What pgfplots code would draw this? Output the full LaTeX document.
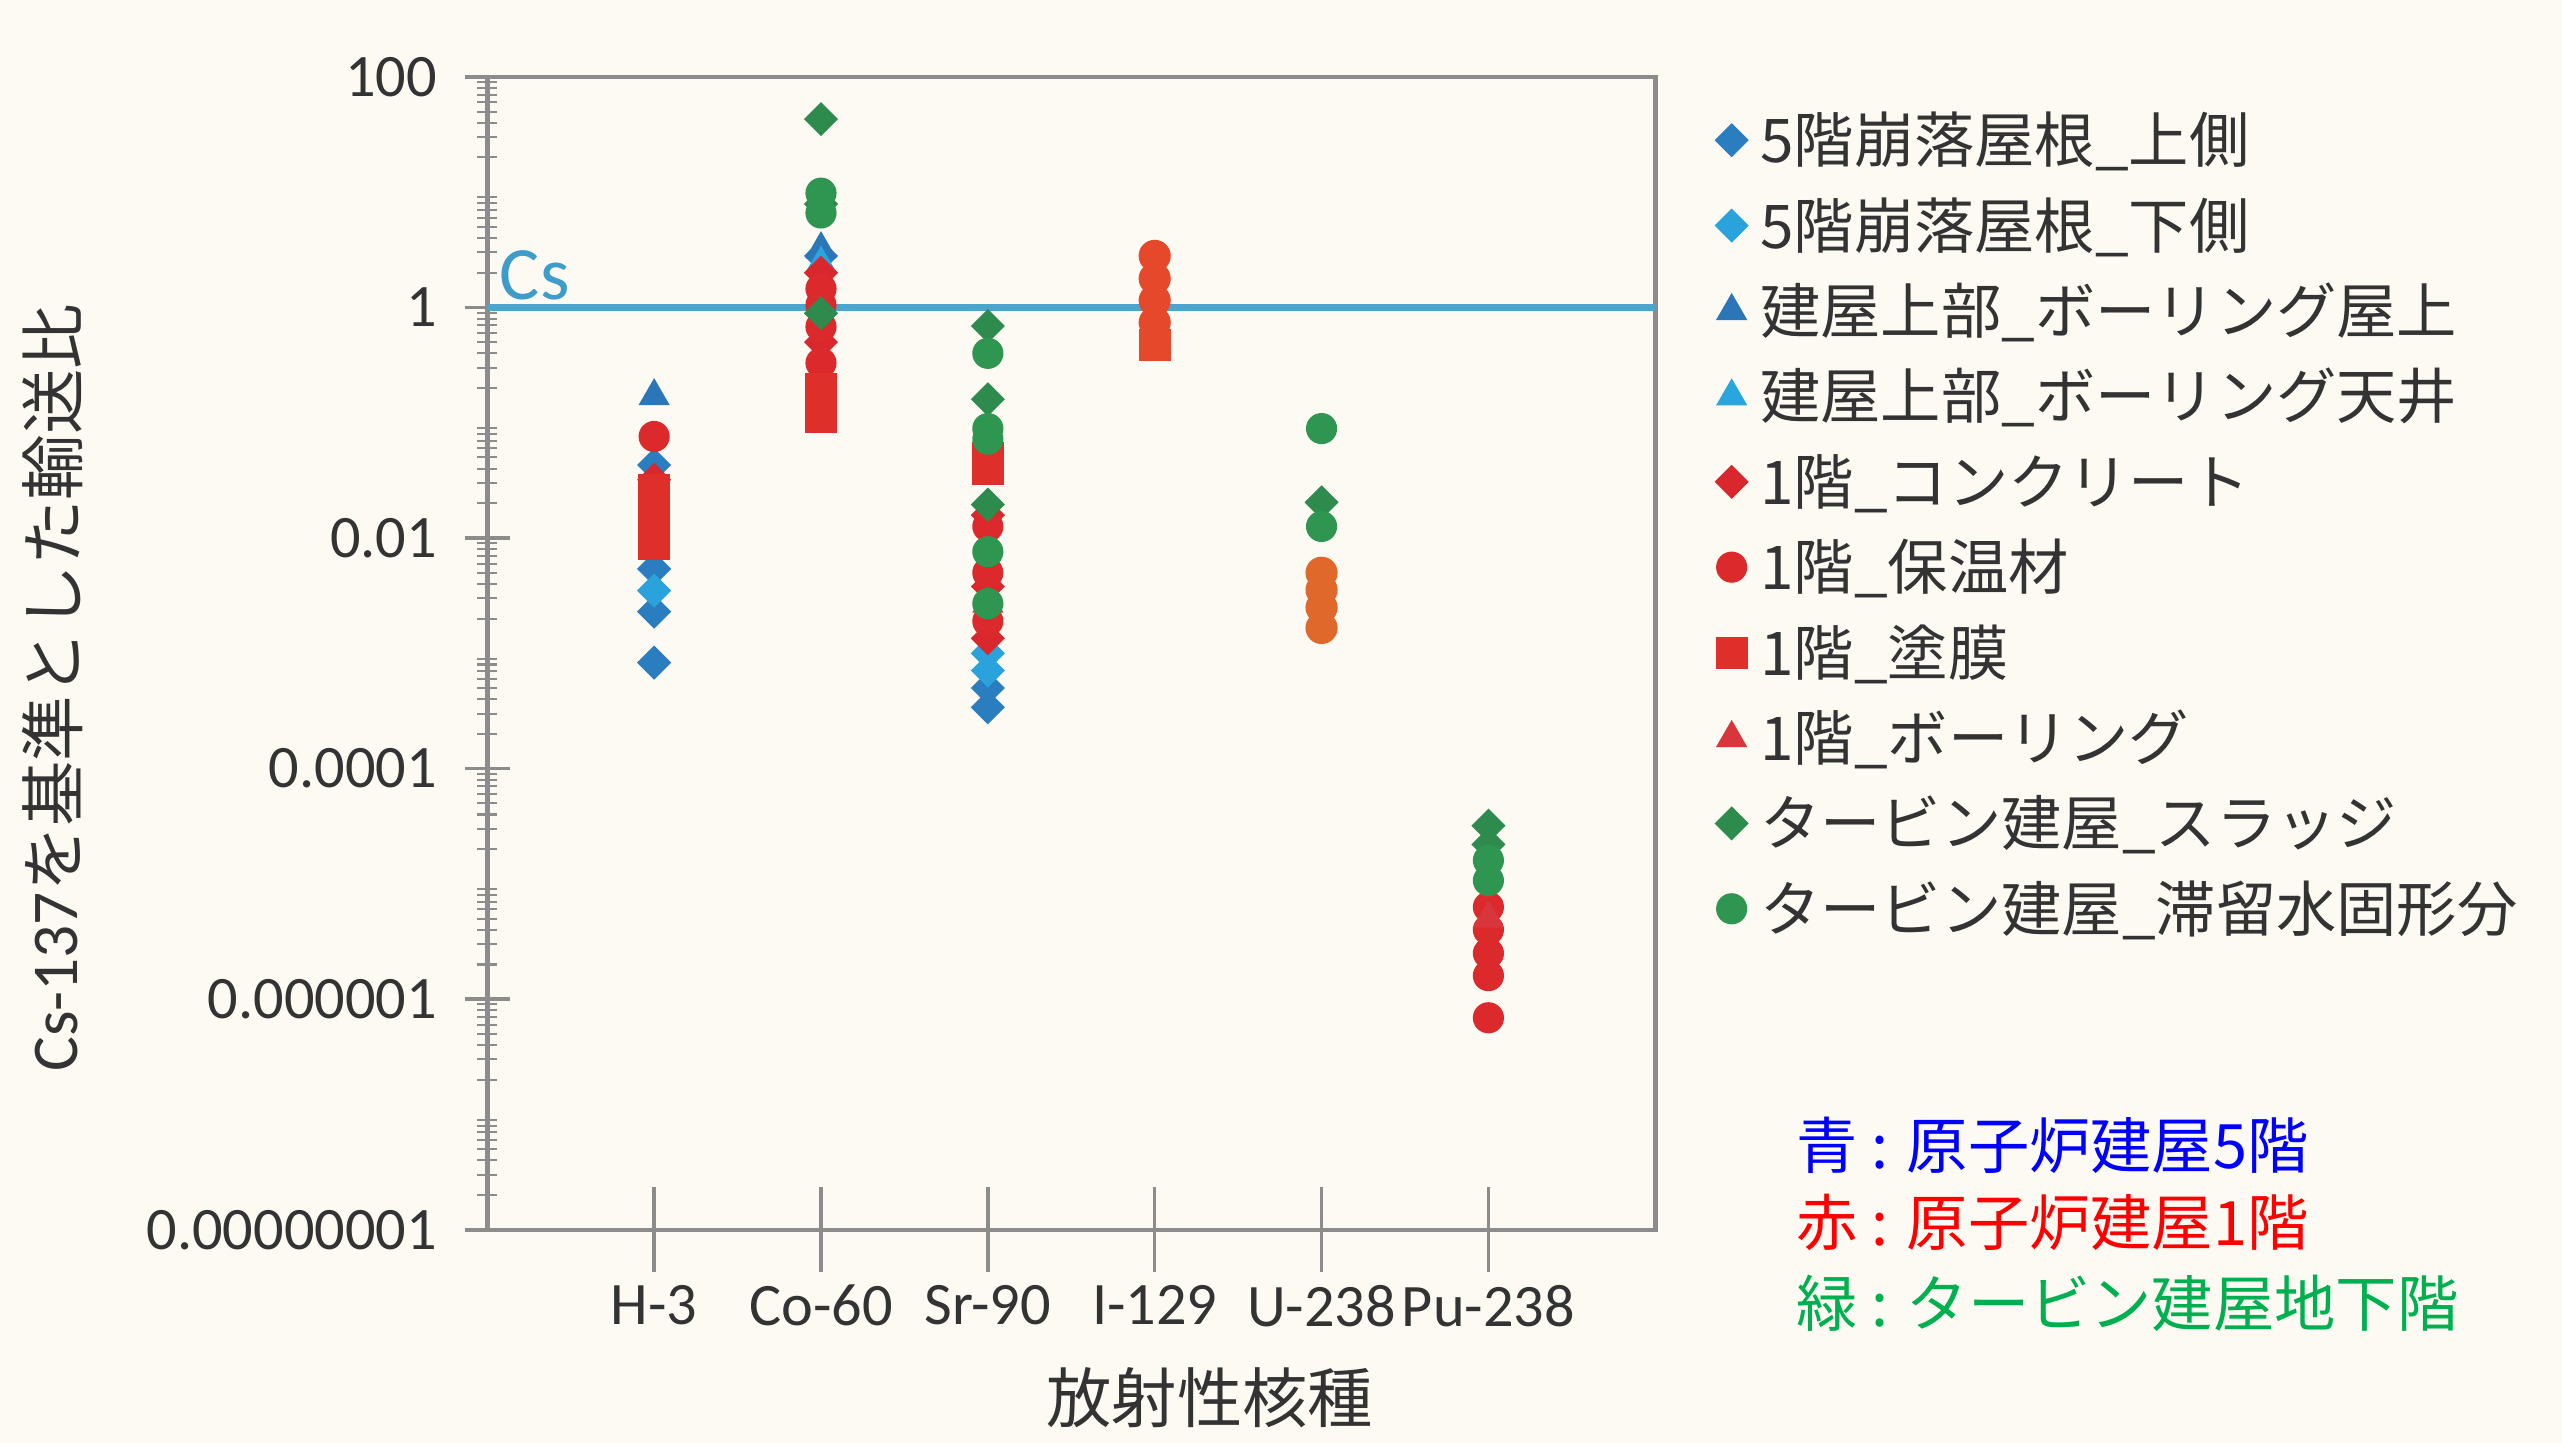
\documentclass[border=0pt]{standalone}
\usepackage{pgfplots}
\pgfplotsset{compat=1.18}
\usepackage{fontspec}
\setmainfont{Carlito}
\newfontfamily\jp{Noto Sans CJK JP}
\definecolor{bgc}{HTML}{FCFAF3}
\definecolor{axisgray}{HTML}{8C8C8C}
\definecolor{bluea}{HTML}{2A7DBE}
\definecolor{blueb}{HTML}{2AA2DC}
\definecolor{bluec}{HTML}{2C76B8}
\definecolor{blued}{HTML}{2AA6DE}
\definecolor{reda}{HTML}{D8282E}
\definecolor{redb}{HTML}{DC2A2C}
\definecolor{redc}{HTML}{DE2F2A}
\definecolor{redd}{HTML}{D8363C}
\definecolor{greena}{HTML}{2E8B4E}
\definecolor{greenb}{HTML}{2E9650}
\definecolor{iorange}{HTML}{E6482C}
\definecolor{uorange}{HTML}{E0682A}
\definecolor{csline}{HTML}{4AA6CC}
\definecolor{cstext}{HTML}{3D9CC9}
\definecolor{noteblue}{HTML}{0000FF}
\definecolor{notered}{HTML}{FF0000}
\definecolor{notegreen}{HTML}{00B050}
\def\minorlist{1e-8}
\foreach \e in {-8,...,1}{\foreach \k in {2,...,9}{\xdef\minorlist{\minorlist,\k e\e}}}
\begin{document}
\begin{tikzpicture}
\fill[bgc] (-97pt,-42.4pt) rectangle (413pt,244.8pt);
\begin{axis}[
  scale only axis, width=232.5pt, height=229.5pt,
  ymode=log, ymin=1e-8, ymax=100,
  xmin=0, xmax=7,
  xtick={1,2,3,4,5,6},
  xticklabels={H-3,Co-60,Sr-90,I-129,U-238,Pu-238},
  ytick={1e-8,1e-6,1e-4,1e-2,1,100},
  yticklabels={0.00000001,0.000001,0.0001,0.01,1,100},
  minor ytick/.expanded={\minorlist},
  xtick pos=bottom, ytick pos=left,
  tick align=center,
  major tick length=9pt, minor tick length=4pt,
  xtick style={/pgfplots/major tick length=17pt},
  axis line style={draw=axisgray, line width=0.9pt},
  tick style={draw=axisgray, line width=0.7pt},
  minor tick style={draw=axisgray, line width=0.4pt},
  /pgf/number format/assume math mode=true,
  xticklabel style={font=\fontsize{12}{14}\selectfont, text=black!80, yshift=-3pt},
  yticklabel style={font=\fontsize{12}{14}\selectfont, text=black!80, xshift=-2pt},
  xlabel={\jp 放射性核種},
  xlabel style={font=\fontsize{13}{15}\selectfont, text=black!80, at={(axis description cs:0.6185,-0.146)}, anchor=center},
  ylabel={Cs-137{\jp を基準とした輸送比}},
  ylabel style={font=\fontsize{13}{15}\selectfont, text=black!80, at={(axis description cs:-0.3725,0.47)}, anchor=center, rotate=0},
  clip=false,
  legend cell align=left,
  legend image code/.code={\draw[#1] plot coordinates {(0pt,0pt)};},
  legend style={draw=none, fill=none, at={(rel axis cs:1,1)}, anchor=north west,
    xshift=11.9pt, yshift=-5.9pt, inner sep=0pt, row sep=4pt,
    font=\jp\fontsize{12}{15}\selectfont, text=black!80,
    nodes={inner sep=0pt, text height=11pt, text depth=2pt},
    /tikz/every odd column/.append style={column sep=2.6pt}},
]
\addplot[forget plot, csline, line width=1.3pt] coordinates {(0,1) (7,1)};
% 5F roof upper
\addplot[only marks, mark=square*, mark size=2.2pt, mark options={rotate=45, bluea, fill=bluea}] coordinates {
 (1,0.043) (1,0.0054) (1,0.0023) (1,0.00083) (2,2.8) (3,0.0005) (3,0.00034)};
\addlegendentry{5階崩落屋根\_上側}
% 5F roof lower
\addplot[only marks, mark=square*, mark size=2.2pt, mark options={rotate=45, blueb, fill=blueb}] coordinates {
 (1,0.0035) (3,0.001) (3,0.00071)};
\addlegendentry{5階崩落屋根\_下側}
% boring roof
\addplot[only marks, mark=triangle*, mark size=3.2pt, mark options={bluec, fill=bluec}] coordinates {
 (1,0.17) (2,3.2)};
\addlegendentry{建屋上部\_ボーリング屋上}
% boring ceiling
\addplot[only marks, mark=triangle*, mark size=3.2pt, mark options={blued, fill=blued}] coordinates {
 (2,2.4)};
\addlegendentry{建屋上部\_ボーリング天井}
% 1F concrete
\addplot[only marks, mark=square*, mark size=2.2pt, mark options={rotate=45, reda, fill=reda}] coordinates {
 (1,0.032) (2,2.0) (2,0.5) (3,0.0158) (3,0.0038) (3,0.00135)};
\addlegendentry{1階\_コンクリート}
% 1F insulation
\addplot[only marks, mark=*, mark size=2.9pt, mark options={redb, fill=redb}] coordinates {
 (1,0.076) (2,1.45) (2,1.05) (2,0.68) (2,0.33) (3,0.0126) (3,0.005) (3,0.0019)
 (6,6.3e-6) (6,4.0e-6) (6,2.5e-6) (6,1.6e-6) (6,6.9e-7)};
\addlegendentry{1階\_保温材}
% 1F paint film
\addplot[only marks, mark=square*, mark size=3pt, mark options={redc, fill=redc}] coordinates {
 (1,0.026) (1,0.018) (1,0.0126) (1,0.0089) (2,0.195) (2,0.112) (3,0.049) (3,0.04)};
\addlegendentry{1階\_塗膜}
% 1F boring
\addplot[only marks, mark=triangle*, mark size=3.2pt, mark options={redd, fill=redd}] coordinates {
 (3,0.0027) (6,5.0e-6)};
\addlegendentry{1階\_ボーリング}
% extra orange-tinted points (I-129, U-238)
\addplot[forget plot, only marks, mark=*, mark size=3pt, mark options={iorange, fill=iorange}] coordinates {
 (4,2.8) (4,1.78) (4,1.15) (4,0.74)};
\addplot[forget plot, only marks, mark=square*, mark size=3pt, mark options={iorange, fill=iorange}] coordinates {
 (4,0.47)};
\addplot[forget plot, only marks, mark=*, mark size=3pt, mark options={uorange, fill=uorange}] coordinates {
 (5,0.005) (5,0.00355) (5,0.0025) (5,0.00166)};
% turbine sludge
\addplot[only marks, mark=square*, mark size=2.2pt, mark options={rotate=45, greena, fill=greena}] coordinates {
 (2,43) (2,7.9) (2,0.89) (3,0.69) (3,0.16) (3,0.0195) (5,0.0204) (6,3.2e-5) (6,2.2e-5)};
\addlegendentry{タービン建屋\_スラッジ}
% turbine stagnant water solids
\addplot[only marks, mark=*, mark size=2.9pt, mark options={greenb, fill=greenb}] coordinates {
 (2,9.8) (2,6.6) (3,0.40) (3,0.089) (3,0.072) (3,0.0076) (3,0.0027)
 (5,0.089) (5,0.0126) (6,1.6e-5) (6,1.07e-5)};
\addlegendentry{タービン建屋\_滞留水固形分}
\end{axis}
\node[anchor=base west, inner sep=0pt, text=cstext, font=\fontsize{15}{17}\selectfont] at (2.3pt,185.2pt) {Cs};
\node[anchor=west, inner sep=0pt, text=noteblue, font=\jp\fontsize{12.2}{15}\selectfont] at (260.4pt,16.9pt) {青 : 原子炉建屋5階};
\node[anchor=west, inner sep=0pt, text=notered, font=\jp\fontsize{12.2}{15}\selectfont] at (260.4pt,1.4pt) {赤 : 原子炉建屋1階};
\node[anchor=west, inner sep=0pt, text=notegreen, font=\jp\fontsize{12.2}{15}\selectfont] at (260.4pt,-14.6pt) {緑 : タービン建屋地下階};
\end{tikzpicture}
\end{document}
